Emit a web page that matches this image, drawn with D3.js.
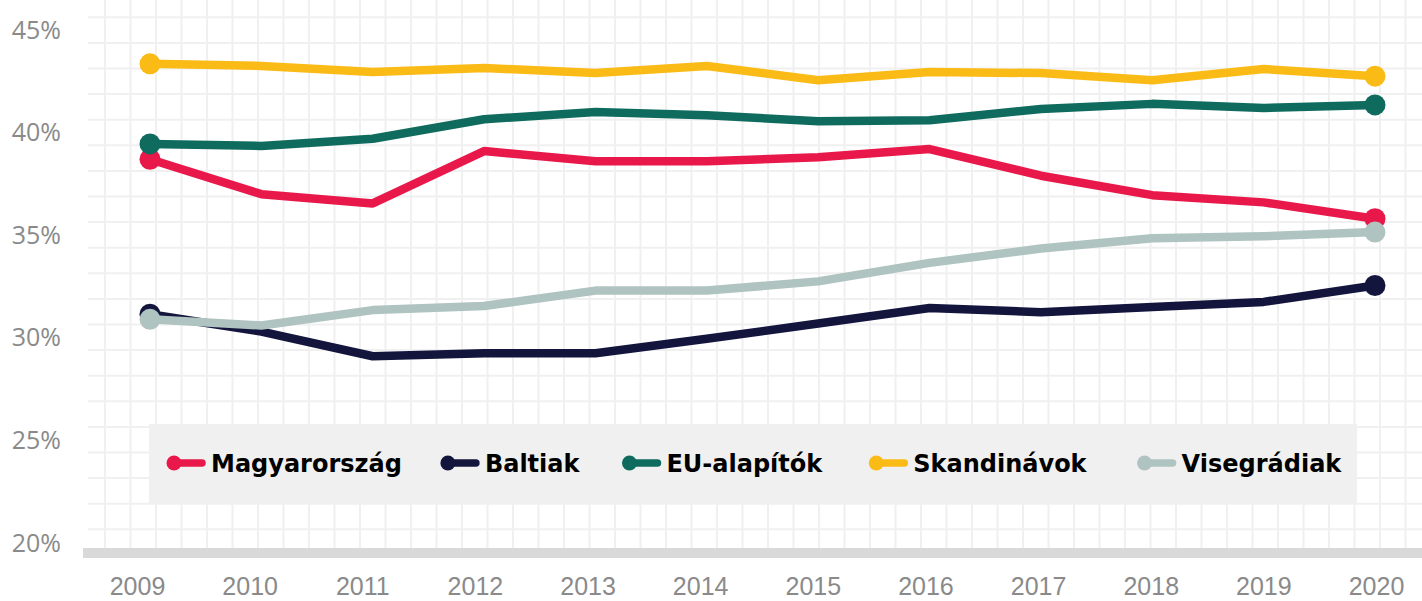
<!DOCTYPE html>
<html>
<head>
<meta charset="utf-8">
<script src="https://cdn.jsdelivr.net/npm/d3@7"></script>
<style>
  html, body { margin: 0; padding: 0; background: #fff; }
  svg { display: block; }
</style>
</head>
<body>
<div id="chart"></div>
<script>
// Data
const years = [2009, 2010, 2011, 2012, 2013, 2014, 2015, 2016, 2017, 2018, 2019, 2020];
const magyarorszag = [38.7, 37.0, 36.55, 39.1, 38.6, 38.6, 38.8, 39.2, 37.9, 36.95, 36.6, 35.8];
const baltiak = [31.15, 30.3, 29.1, 29.25, 29.25, 29.95, 30.7, 31.45, 31.25, 31.5, 31.75, 32.55];
const euAlapitok = [39.45, 39.35, 39.7, 40.65, 41.0, 40.85, 40.55, 40.6, 41.15, 41.4, 41.2, 41.35];
const skandinavok = [43.35, 43.25, 42.95, 43.15, 42.9, 43.25, 42.55, 42.95, 42.9, 42.55, 43.1, 42.75];
const visegradiak = [30.9, 30.6, 31.35, 31.55, 32.3, 32.3, 32.75, 33.65, 34.35, 34.85, 34.95, 35.15];
const yTicks = [20, 25, 30, 35, 40, 45];

const names = ["Magyarország", "Baltiak", "EU-alapítók", "Skandinávok", "Visegrádiak"];
const colors = ["#e8194a", "#13153d", "#0f6b5e", "#fbbb16", "#afc3c0"];
const values = [magyarorszag, baltiak, euAlapitok, skandinavok, visegradiak];

const series = names.map((name, i) => ({
    name: name,
    color: colors[i],
    points: years.map((year, j) => ({ year: year, value: values[i][j] }))
}));

const width = 1422;
const height = 601;

const svg = d3.select("#chart")
    .append("svg")
    .attr("width", width)
    .attr("height", height);

// Scales
const x = d3.scaleLinear().domain([2009, 2020]).range([150, 1375]);
const xLabel = d3.scalePoint().domain(years).range([137, 1376]);
const y = d3.scaleLinear().domain([20, 45]).range([543, 30]);

// Graph-paper background
const grid = svg.append("g").attr("class", "grid");
grid.selectAll(".vline")
    .data(d3.range(105, width, 25.5))
    .enter()
    .append("line")
    .attr("x1", d => d).attr("x2", d => d)
    .attr("y1", 0).attr("y2", 548)
    .attr("stroke", "#f0f0f0")
    .attr("stroke-width", 2);
grid.selectAll(".hline")
    .data(d3.range(17.3, 548, 25.6))
    .enter()
    .append("line")
    .attr("x1", 88).attr("x2", width)
    .attr("y1", d => d).attr("y2", d => d)
    .attr("stroke", "#f0f0f0")
    .attr("stroke-width", 2);

// Axis baseline bar
svg.append("rect")
    .attr("x", 83)
    .attr("y", 548)
    .attr("width", width - 83)
    .attr("height", 10)
    .attr("fill", "#d9d9d9");

// Y axis labels
const yAxis = d3.axisLeft(y)
    .tickValues(yTicks)
    .tickSize(0)
    .tickPadding(0)
    .tickFormat(d => d + "%");

svg.append("g")
    .attr("transform", "translate(61,0)")
    .call(yAxis)
    .call(g => g.select(".domain").remove())
    .selectAll("text")
    .attr("fill", "#8a8a8a")
    .style("font-family", "'Open Sans', sans-serif")
    .style("font-size", "25px");

// X axis labels
const xAxis = d3.axisBottom(xLabel)
    .tickSize(0)
    .tickPadding(0);

svg.append("g")
    .attr("transform", "translate(0,595)")
    .call(xAxis)
    .call(g => g.select(".domain").remove())
    .selectAll("text")
    .attr("dy", "0")
    .attr("fill", "#8a8a8a")
    .style("font-family", "'Liberation Sans', sans-serif")
    .style("font-size", "25px");

// Legend background, lines go over it
const legendBox = svg.append("g").attr("class", "legend");
legendBox.append("rect")
    .attr("x", 149)
    .attr("y", 424)
    .attr("width", 1208)
    .attr("height", 80)
    .attr("fill", "#f0f0f0");

// Lines
const line = d3.line()
    .x(d => x(d.year))
    .y(d => y(d.value));

const seriesG = svg.selectAll(".series")
    .data(series)
    .enter()
    .append("g")
    .attr("class", "series");

seriesG.append("path")
    .attr("d", d => line(d.points))
    .attr("fill", "none")
    .attr("stroke", d => d.color)
    .attr("stroke-width", 8.5)
    .attr("stroke-linejoin", "round")
    .attr("stroke-linecap", "round");

// End markers
seriesG.selectAll("circle")
    .data(d => [d.points[0], d.points[d.points.length - 1]].map(p => ({ p: p, color: d.color })))
    .enter()
    .append("circle")
    .attr("cx", d => x(d.p.year))
    .attr("cy", d => y(d.p.value))
    .attr("r", 10.5)
    .attr("fill", d => d.color);

// Legend items, laid out in a row
let cursor = 174;
const legendY = 463;
series.forEach((s, i) => {
    const item = legendBox.append("g");
    item.append("line")
        .attr("x1", cursor).attr("x2", cursor + 28)
        .attr("y1", legendY).attr("y2", legendY)
        .attr("stroke", s.color)
        .attr("stroke-width", 7.5)
        .attr("stroke-linecap", "round");
    item.append("circle")
        .attr("cx", cursor)
        .attr("cy", legendY)
        .attr("r", 7.5)
        .attr("fill", s.color);
    const label = item.append("text")
        .attr("x", cursor + 37)
        .attr("y", legendY)
        .attr("dy", "0.36em")
        .attr("fill", "#000")
        .style("font-family", "'DejaVu Sans', sans-serif")
        .style("font-weight", "bold")
        .style("font-size", "24px")
        .text(s.name);
    cursor += 37 + label.node().getComputedTextLength() + 46 + i * 4;
});
</script>
</body>
</html>
